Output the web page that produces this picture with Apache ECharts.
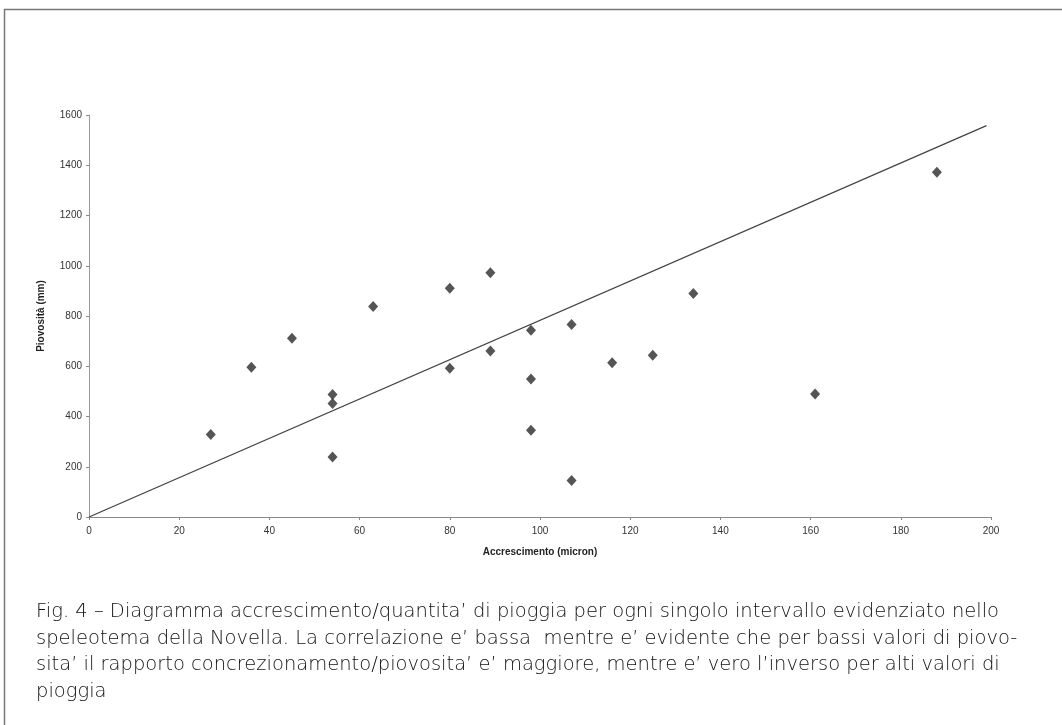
<!DOCTYPE html>
<html>
<head>
<meta charset="utf-8">
<script src="https://cdn.jsdelivr.net/npm/echarts@6/dist/echarts.min.js"></script>
<style>
html,body{margin:0;padding:0;background:#fff;}
#chart{width:1062px;height:725px;}
</style>
</head>
<body>
<div id="chart"></div>
<script>
// Accrescimento (micron)
var growthX = [27, 36, 45, 54, 54, 54, 63, 80, 80, 89, 89, 98, 98, 98, 107, 107, 116, 125, 134, 161, 188];
// Piovosità (mm)
var rainY = [328, 596, 711, 488, 452, 239, 838, 592, 910, 661, 972, 743, 549, 345, 766, 145, 614, 644, 890, 490, 1372];
// regression line endpoints
var trendX = [0, 199];
var trendY = [0, 1558];
var xTicks = [0, 20, 40, 60, 80, 100, 120, 140, 160, 180, 200];
var yTicks = [0, 200, 400, 600, 800, 1000, 1200, 1400, 1600];
var captionLines = [
  "Fig. 4 \u2013 Diagramma accrescimento/quantita\u2019 di pioggia per ogni singolo intervallo evidenziato nello",
  "speleotema della Novella. La correlazione e\u2019 bassa  mentre e\u2019 evidente che per bassi valori di piovo-",
  "sita\u2019 il rapporto concrezionamento/piovosita\u2019 e\u2019 maggiore, mentre e\u2019 vero l\u2019inverso per alti valori di",
  "pioggia"
];

var points = growthX.map(function (x, i) { return [x, rainY[i]]; });
var trend = trendX.map(function (x, i) { return [x, trendY[i]]; });

var chart = echarts.init(document.getElementById('chart'));
var lbl = { fontFamily: 'Liberation Sans, Arial, sans-serif', fontSize: 10, color: '#333' };

var graphics = [{
  type: 'rect',
  shape: { x: 4.5, y: 9.5, width: 1100, height: 800 },
  style: { fill: 'none', stroke: '#777', lineWidth: 1.5 },
  silent: true
}];
captionLines.forEach(function (t, i) {
  graphics.push({
    type: 'text',
    left: 36,
    top: 602 + i * 26.5,
    style: {
      text: t,
      fontFamily: 'DejaVu Sans, sans-serif',
      fontWeight: 200,
      fontSize: 19.5,
      fill: '#111'
    }
  });
});

chart.setOption({
  animation: false,
  backgroundColor: '#fff',
  grid: { left: 89, right: 71, top: 115, bottom: 208, containLabel: false },
  xAxis: {
    type: 'value', min: 0, max: 200, interval: 20,
    name: 'Accrescimento (micron)', nameLocation: 'middle', nameGap: 30,
    nameTextStyle: { fontFamily: 'Liberation Sans, Arial, sans-serif', fontSize: 10, fontWeight: 'bold', color: '#222' },
    axisLine: { lineStyle: { color: '#888', width: 1 } },
    axisTick: { show: true, length: 3, lineStyle: { color: '#888' } },
    axisLabel: Object.assign({ margin: 9, formatter: function (v) { return xTicks.indexOf(v) >= 0 ? String(v) : ''; } }, lbl),
    splitLine: { show: false }
  },
  yAxis: {
    type: 'value', min: 0, max: 1600, interval: 200,
    name: 'Piovosità (mm)', nameLocation: 'middle', nameGap: 43, nameRotate: 90,
    nameTextStyle: { fontFamily: 'Liberation Sans, Arial, sans-serif', fontSize: 10, fontWeight: 'bold', color: '#222' },
    axisLine: { show: true, lineStyle: { color: '#999', width: 1 } },
    axisTick: { show: true, length: 3, lineStyle: { color: '#888' } },
    axisLabel: Object.assign({ margin: 7, formatter: function (v) { return yTicks.indexOf(v) >= 0 ? String(v) : ''; } }, lbl),
    splitLine: { show: false }
  },
  series: [{
    type: 'line',
    data: trend,
    symbol: 'none',
    lineStyle: { color: '#444', width: 1.3 },
    silent: true,
    z: 2
  }, {
    type: 'scatter',
    data: points,
    symbol: 'diamond',
    symbolSize: [10, 11],
    itemStyle: { color: '#2a2a2a' },
    z: 3
  }],
  graphic: graphics
});
</script>
</body>
</html>
